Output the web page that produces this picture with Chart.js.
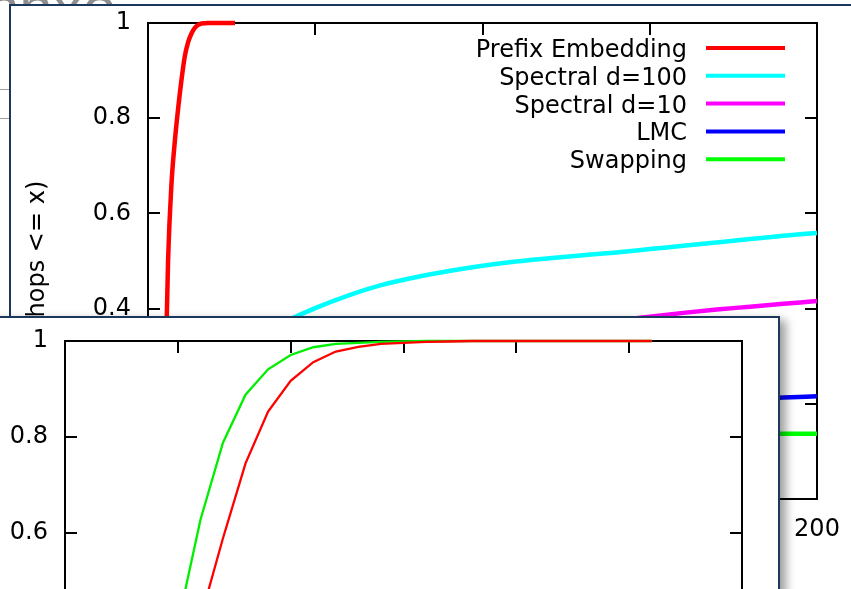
<!DOCTYPE html>
<html><head><meta charset="utf-8">
<script src="https://cdn.jsdelivr.net/npm/chart.js@4.4.1/dist/chart.umd.min.js"></script>
<style>
html,body{margin:0;padding:0;width:851px;height:589px;overflow:hidden;background:#fff;}
body{position:relative;}
#ghost{position:absolute;left:-14px;top:-22px;width:144px;height:60px;overflow:hidden;font:60px "Liberation Sans",Arial,sans-serif;line-height:60px;color:#8e8e8e;white-space:nowrap;}
.gl{position:absolute;left:0;width:9px;height:1px;background:#a0a0a0;}
#panelA{position:absolute;left:9px;top:4px;width:900px;height:700px;border:2px solid #1b375c;background:#fff;}
#panelB{position:absolute;left:-20px;top:316px;width:796px;height:700px;border:2px solid #1b375c;background:#fff;box-shadow:6px 4px 9px rgba(0,0,0,0.38);}
canvas{position:absolute;left:0;top:0;}
</style></head>
<body>
<div id="ghost">nnxo</div>
<div class="gl" style="top:89px"></div>
<div class="gl" style="top:118px"></div>
<div id="panelA"><canvas id="cA" width="840" height="583"></canvas></div>
<div id="panelB"><canvas id="cB" width="796" height="600"></canvas></div>
<script>
// ---------- data: chart A (hops CDF, 0..200) ----------
const seriesNamesA = ['Prefix Embedding','Spectral d=100','Spectral d=10','LMC','Swapping'];
const prefixX = [0,3,4,5,6,7,8,9,10,11,12,13,14,15,16,18,26];
const prefixY = [0,0.02,0.08,0.2,0.5,0.66,0.75,0.82,0.88,0.93,0.96,0.978,0.99,0.996,0.999,1,1];
const gridX = [0,10,20,30,40,50,60,70,80,90,100,110,120,130,140,150,160,170,180,190,200];
const spectral100Y = [0,0.13,0.24,0.315,0.368,0.401,0.428,0.45,0.466,0.479,0.49,0.499,0.506,0.512,0.518,0.525,0.532,0.539,0.546,0.553,0.559];
const spectral10Y  = [0,0.05,0.1,0.14,0.18,0.215,0.25,0.27,0.29,0.305,0.32,0.335,0.35,0.363,0.375,0.383,0.391,0.398,0.404,0.41,0.416];
const lmcY         = [0,0.03,0.05,0.07,0.09,0.105,0.12,0.133,0.145,0.155,0.165,0.173,0.18,0.186,0.192,0.197,0.201,0.205,0.209,0.213,0.216];
const swappingY    = [0,0.035,0.06,0.078,0.09,0.1,0.108,0.113,0.118,0.122,0.125,0.127,0.129,0.131,0.132,0.133,0.134,0.135,0.136,0.137,0.137];
const xTicksA = [0,50,100,150,200];
const yTicks = [0,0.2,0.4,0.6,0.8,1];

// ---------- data: chart B (hops, 0..30) ----------
const xB = [0,1,2,3,4,5,6,7,8,9,10,11,12,13,14,15,16,17,18,19,20,21,22,23,24,25,26];
const prefixB   = [0,0,0,0.02,0.08,0.22,0.421,0.589,0.745,0.853,0.917,0.956,0.978,0.988,0.994,0.996,0.998,0.999,1,1,1,1,1,1,1,1,1];
const swappingB = [0,0,0.01,0.05,0.2,0.41,0.627,0.788,0.888,0.941,0.971,0.987,0.994,0.996,0.998,0.999,1,1,1,1,1,1,1,1,1,1,1];
const xTicksB = [0,5,10,15,20,25,30];

const zip = (xs, ys) => xs.map((x, i) => ({x, y: ys[i]}));
const FONT = {family:'"DejaVu Sans", sans-serif', size:24};

const frame = {
  id:'frame',
  beforeDatasetsDraw(chart){
    const {ctx, chartArea:a, scales:{x, y}} = chart;
    ctx.save();
    ctx.strokeStyle = '#000';
    ctx.lineWidth = 2;
    ctx.strokeRect(a.left, a.top, a.right - a.left, a.bottom - a.top);
    const L = 12;
    ctx.beginPath();
    x.ticks.forEach(t => {
      const p = Math.round(x.getPixelForValue(t.value));
      if (p <= a.left + 1 || p >= a.right - 1) return;
      ctx.moveTo(p, a.bottom); ctx.lineTo(p, a.bottom - L);
      ctx.moveTo(p, a.top); ctx.lineTo(p, a.top + L);
    });
    y.ticks.forEach(t => {
      const p = Math.round(y.getPixelForValue(t.value));
      if (p <= a.top + 1 || p >= a.bottom - 1) return;
      ctx.moveTo(a.left, p); ctx.lineTo(a.left + L, p);
      ctx.moveTo(a.right, p); ctx.lineTo(a.right - L, p);
    });
    ctx.stroke();
    ctx.restore();
  }
};

const keyA = {
  id:'keyA',
  afterDatasetsDraw(chart){
    const ctx = chart.ctx;
    ctx.save();
    ctx.font = '24px "DejaVu Sans", sans-serif';
    ctx.textAlign = 'right';
    ctx.textBaseline = 'alphabetic';
    chart.data.datasets.forEach((d, i) => {
      const yy = 42 + i * 27.8;
      ctx.fillStyle = '#000';
      ctx.fillText(d.label, 676, yy + 9);
      ctx.strokeStyle = d.borderColor;
      ctx.lineWidth = 4;
      ctx.beginPath(); ctx.moveTo(695, yy); ctx.lineTo(774, yy); ctx.stroke();
    });
    ctx.restore();
  }
};

const setTicks = arr => s => { s.ticks = arr.map(v => ({value:v})); };
const fitX = h => s => { s.height = h; s.paddingLeft = 0; s.paddingRight = 0; };
const fitY = w => s => { s.width = w; s.paddingTop = 0; s.paddingBottom = 0; };

const colorsA = ['#ff0000','#00ffff','#ff00ff','#0000ff','#00ff00'];
const dataA = [zip(prefixX, prefixY), zip(gridX, spectral100Y), zip(gridX, spectral10Y), zip(gridX, lmcY), zip(gridX, swappingY)];

new Chart(document.getElementById('cA'), {
  type:'line',
  data:{datasets: seriesNamesA.map((n, i) => ({
    label:n, data:dataA[i], borderColor:colorsA[i], borderWidth:4.5, clip:false,
    pointRadius:0, cubicInterpolationMode:'monotone', fill:false
  }))},
  options:{
    responsive:false, animation:false, events:[],
    layout:{padding:{left:0, top:17, right:34, bottom:0}},
    plugins:{legend:{display:false}, tooltip:{enabled:false}},
    scales:{
      x:{type:'linear', min:0, max:200, afterBuildTicks:setTicks(xTicksA), afterFit:fitX(90),
         grid:{display:false, drawTicks:false}, border:{display:false},
         ticks:{font:FONT, color:'#000', padding:16, maxRotation:0, autoSkip:false, callback:v => String(v)}},
      y:{type:'linear', min:0, max:1, afterBuildTicks:setTicks(yTicks), afterFit:fitY(137),
         grid:{display:false, drawTicks:false}, border:{display:false},
         title:{display:true, text:'P(hops <= x)', font:FONT, color:'#000', padding:{top:12, bottom:0}},
         ticks:{font:FONT, color:'#000', padding:17, autoSkip:false, callback:v => String(v)}}
    }
  },
  plugins:[frame, keyA]
});

new Chart(document.getElementById('cB'), {
  type:'line',
  data:{datasets:[
    {label:'Prefix Embedding', data:zip(xB, prefixB), borderColor:'#ff0000', borderWidth:2.3, tension:0, pointRadius:0, clip:false},
    {label:'Swapping', data:zip(xB, swappingB), borderColor:'#00ee00', borderWidth:2.3, tension:0, pointRadius:0, clip:false}
  ]},
  options:{
    responsive:false, animation:false, events:[],
    layout:{padding:{left:0, top:23, right:36, bottom:0}},
    plugins:{legend:{display:false}, tooltip:{enabled:false}},
    scales:{
      x:{type:'linear', min:0, max:30, afterBuildTicks:setTicks(xTicksB), afterFit:fitX(97),
         grid:{display:false, drawTicks:false}, border:{display:false},
         ticks:{font:FONT, color:'#000', padding:15, maxRotation:0, autoSkip:false, callback:v => String(v)}},
      y:{type:'linear', min:0, max:1, afterBuildTicks:setTicks(yTicks), afterFit:fitY(83),
         grid:{display:false, drawTicks:false}, border:{display:false},
         ticks:{font:FONT, color:'#000', padding:17, autoSkip:false, callback:v => String(v)}}
    }
  },
  plugins:[frame]
});
</script>
</body></html>
